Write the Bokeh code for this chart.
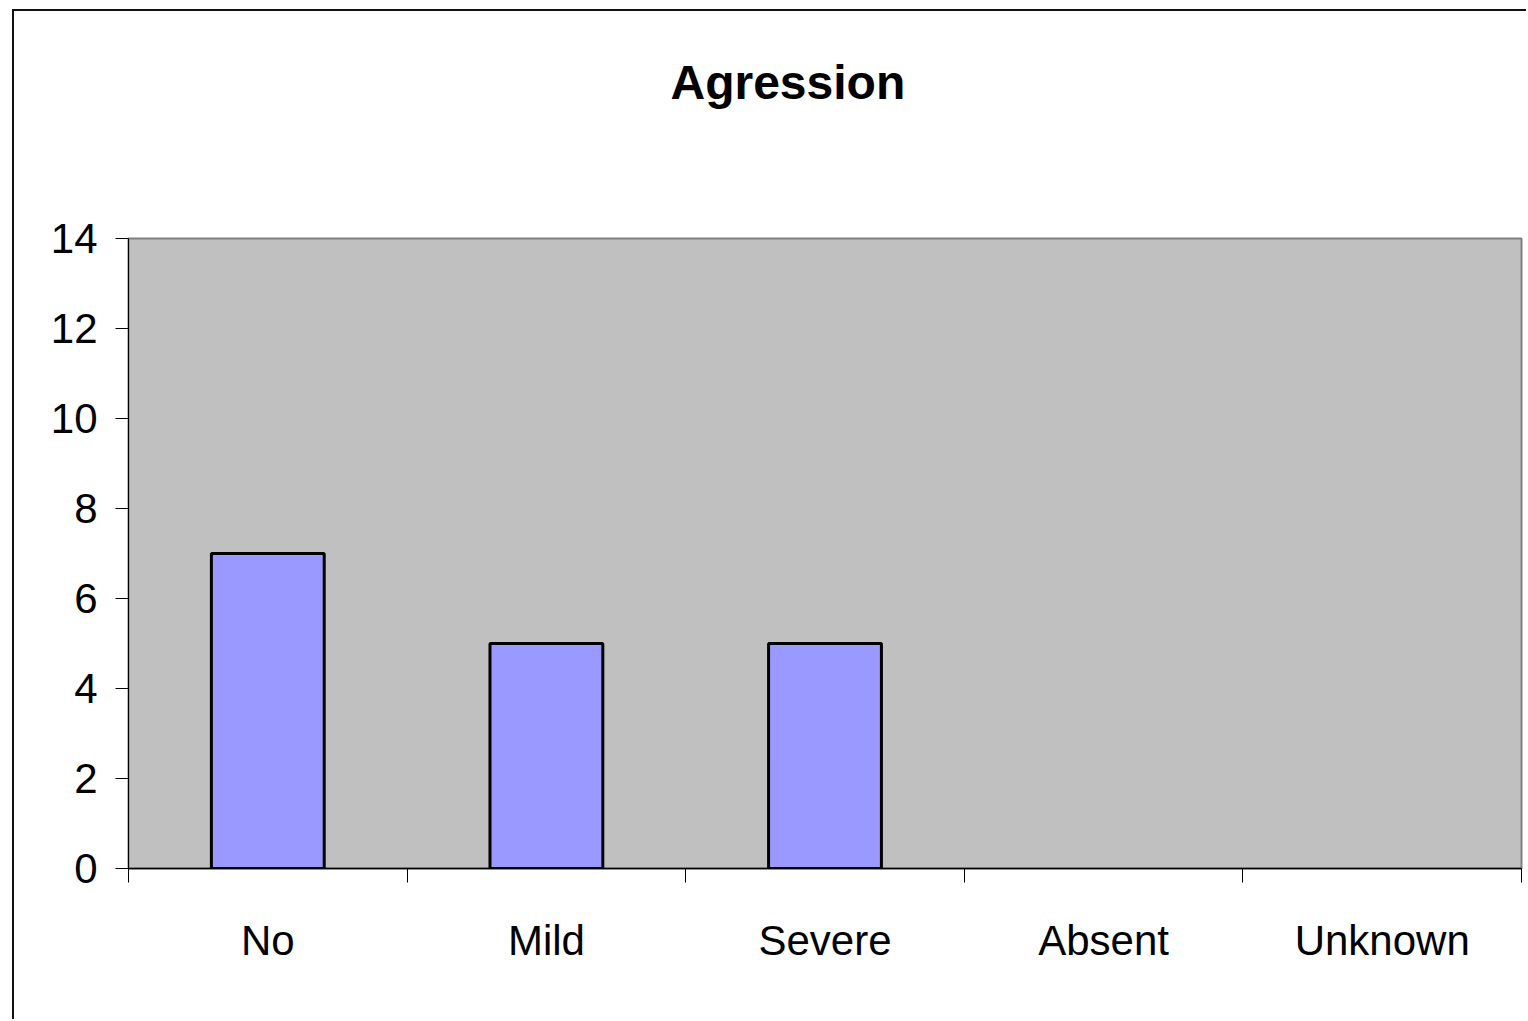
from bokeh.plotting import figure
from bokeh.models import Range1d, FixedTicker, Title, ColumnDataSource
from bokeh.embed import file_html
from bokeh.resources import INLINE

categories = ["No", "Mild", "Severe", "Absent", "Unknown"]
counts = [7, 5, 5, 0, 0]
y_ticks = [0, 2, 4, 6, 8, 10, 12, 14]
title_text = "Agression"

FONT = "Liberation Sans"

xs = [i + 0.5 for i in range(len(categories))]
src = ColumnDataSource(dict(x=xs, top=counts,
                            outline=["black" if c > 0 else None for c in counts]))

p = figure(width=1514, height=1010, output_backend="svg", toolbar_location=None,
           x_range=Range1d(0, len(categories)), y_range=Range1d(0, 14),
           min_border_left=114, min_border_right=7, min_border_top=227, min_border_bottom=153,
           title=title_text)
p.styles = {"margin-left": "12px", "margin-top": "9px",
            "border-left": "2px solid #111", "border-top": "2px solid #111"}
p.background_fill_color = "#c0c0c0"
p.border_fill_color = "white"
p.outline_line_color = "#808080"
p.outline_line_width = 2
p.grid.visible = False

p.title.align = "left"
p.title.offset = 542
p.title.standoff = 0
p.title.text_font = FONT
p.title.text_font_style = "bold"
p.title.text_font_size = "48px"
p.title.text_color = "black"

# empty spacer between the title and the plot frame
p.add_layout(Title(text=" ", text_font_size="1px", standoff=127), "above")

p.vbar(x="x", top="top", width=0.405, bottom=0, source=src, fill_color="#9999ff",
       line_color="outline", line_width=3)

xa = p.xaxis[0]
xa.ticker = FixedTicker(ticks=xs, minor_ticks=list(range(len(categories) + 1)))
xa.major_label_overrides = {x: c for x, c in zip(xs, categories)}
xa.major_tick_line_color = None
xa.minor_tick_line_color = "black"
xa.minor_tick_out = 14
xa.minor_tick_in = 0
xa.axis_line_color = "black"
xa.axis_line_width = 1.5
xa.major_label_text_font = FONT
xa.major_label_text_font_size = "42px"
xa.major_label_text_color = "black"
xa.major_label_standoff = 34

ya = p.yaxis[0]
ya.ticker = FixedTicker(ticks=y_ticks, minor_ticks=[])
ya.major_tick_line_color = "black"
ya.major_tick_out = 13
ya.major_tick_in = 0
ya.axis_line_color = "black"
ya.axis_line_width = 1
ya.major_label_text_font = FONT
ya.major_label_text_font_size = "42px"
ya.major_label_text_color = "black"
ya.major_label_standoff = 18

html = file_html(p, INLINE)
html = html.replace("<body>", '<body style="background:#f3ecf3; overflow:hidden;">', 1)
open("out.html", "w").write(html)
